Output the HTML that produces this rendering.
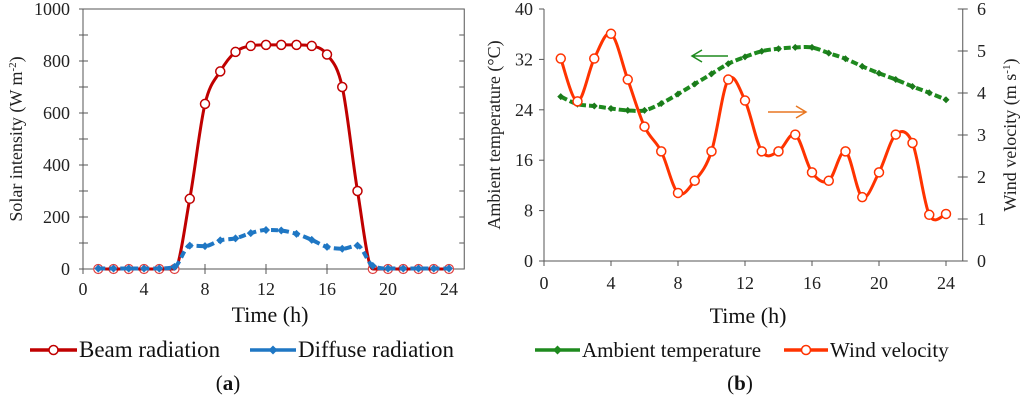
<!DOCTYPE html>
<html><head><meta charset="utf-8"><style>
body{margin:0;background:#fff;}
svg{font-family:"Liberation Serif",serif;}
</style></head><body>
<svg id="c" width="1024" height="402" viewBox="0 0 1024 402" xmlns="http://www.w3.org/2000/svg"></svg>
<script>
const hours=[1,2,3,4,5,6,7,8,9,10,11,12,13,14,15,16,17,18,19,20,21,22,23,24];
const beam=[0,0,0,0,0,0,270,635,760,835,858,862,862,862,858,825,700,300,0,0,0,0,0,0];
const diffuse=[2,2,2,2,2,8,90,88,110,118,138,150,148,135,112,85,78,90,12,2,2,2,2,2];
const temp=[26.1,24.9,24.6,24.2,23.9,23.9,25,26.5,28.1,29.7,31.3,32.4,33.3,33.7,33.9,33.9,33,32.1,30.9,29.8,28.8,27.7,26.7,25.6];
const wind=[4.82,3.8,4.82,5.41,4.32,3.2,2.61,1.62,1.91,2.61,4.32,3.82,2.61,2.61,3.01,2.11,1.91,2.61,1.52,2.11,3.01,2.81,1.1,1.12];
const xTicks=[0,4,8,12,16,20,24];
const yTicksA=[0,200,400,600,800,1000];
const yTicksT=[0,8,16,24,32,40];
const yTicksW=[0,1,2,3,4,5,6];

const svg=document.getElementById('c');
const NS='http://www.w3.org/2000/svg';
function el(tag,attrs,parent){const e=document.createElementNS(NS,tag);for(const k in attrs)e.setAttribute(k,attrs[k]);(parent||svg).appendChild(e);return e;}
function txt(s,attrs,parent){const e=el('text',attrs,parent);e.textContent=s;return e;}
function smooth(pts){let d=`M${pts[0][0]},${pts[0][1]}`;for(let i=0;i<pts.length-1;i++){const p0=pts[i-1]||pts[i],p1=pts[i],p2=pts[i+1],p3=pts[i+2]||p2;const c1=[p1[0]+(p2[0]-p0[0])/6,p1[1]+(p2[1]-p0[1])/6],c2=[p2[0]-(p3[0]-p1[0])/6,p2[1]-(p3[1]-p1[1])/6];d+=`C${c1[0]},${c1[1]} ${c2[0]},${c2[1]} ${p2[0]},${p2[1]}`;}return d;}
function monotone(pts){const n=pts.length,dx=[],s=[],m=[];for(let i=0;i<n-1;i++){dx[i]=pts[i+1][0]-pts[i][0];s[i]=(pts[i+1][1]-pts[i][1])/dx[i];}
 m[0]=s[0];m[n-1]=s[n-2];for(let i=1;i<n-1;i++){m[i]=(s[i-1]*s[i]<=0)?0:(s[i-1]+s[i])/2;}
 for(let i=0;i<n-1;i++){if(s[i]===0){m[i]=0;m[i+1]=0;continue;}const a=m[i]/s[i],b=m[i+1]/s[i],h=a*a+b*b;if(h>9){const t=3/Math.sqrt(h);m[i]=t*a*s[i];m[i+1]=t*b*s[i];}}
 let d=`M${pts[0][0]},${pts[0][1]}`;for(let i=0;i<n-1;i++){const h=dx[i]/3;d+=`C${pts[i][0]+h},${pts[i][1]+m[i]*h} ${pts[i+1][0]-h},${pts[i+1][1]-m[i+1]*h} ${pts[i+1][0]},${pts[i+1][1]}`;}return d;}
function diamond(x,y,r,fill,g){return el('path',{d:`M${x},${y-r}L${x+r},${y}L${x},${y+r}L${x-r},${y}Z`,fill:fill},g);}

// ---- Chart A
const ax=v=>83+v*(366/24), ay=v=>269-v*0.26;
const gA=el('g',{});
el('rect',{x:83,y:9,width:ax(25)-83,height:260,fill:'none',stroke:'#555','stroke-width':1},gA);
for(let v=0;v<=1000;v+=100){const y=ay(v);el('line',{x1:79,x2:88,y1:y,y2:y,stroke:'#555'},gA);el('line',{x1:ax(25)-5,x2:ax(25),y1:y,y2:y,stroke:'#555'},gA);}
yTicksA.forEach(v=>{const t=txt(v,{x:70,y:ay(v)+6,'text-anchor':'end','font-size':18,fill:'#222'},gA);});
xTicks.forEach(v=>{el('line',{x1:ax(v),x2:ax(v),y1:264,y2:274,stroke:'#555'},gA);const t=txt(v,{x:ax(v),y:295,'text-anchor':'middle','font-size':18,fill:'#222'},gA);});
let t=txt('Solar intensity (W m',{transform:'translate(22,139) rotate(-90)','text-anchor':'middle','font-size':18,fill:'#222'},gA);
const sp=el('tspan',{'font-size':11,dy:-6},t);sp.textContent='-2';const sp2=el('tspan',{dy:6},t);sp2.textContent=')';

t=txt('Time (h)',{x:270,y:322,'text-anchor':'middle','font-size':22,fill:'#111'},gA);
hours.forEach((h,i)=>{if(beam[i]!==0)return;const c=el('circle',{cx:ax(h),cy:ay(beam[i]),r:4.5,fill:'#fff',stroke:'#e04040','stroke-width':1.2},gA);});
let p=el('path',{d:monotone(hours.map((h,i)=>[ax(h),ay(beam[i])])),fill:'none',stroke:'#c00000','stroke-width':3},gA);
p=el('path',{d:monotone(hours.map((h,i)=>[ax(h),ay(diffuse[i])])),fill:'none',stroke:'#1f77c4','stroke-width':4,'stroke-dasharray':'7,4'},gA);
hours.forEach((h,i)=>{const d=diamond(ax(h),ay(diffuse[i]),4,'#1f77c4',gA);});
hours.forEach((h,i)=>{if(beam[i]===0)return;const c=el('circle',{cx:ax(h),cy:ay(beam[i]),r:4.5,fill:'#fff',stroke:'#c00000','stroke-width':1.5},gA);});

// ---- Chart B
const bx=v=>544+v*(402/24), by=v=>261-v*6.3, bw=v=>261-v*42;
const gB=el('g',{});
el('path',{d:`M544,9V261H${bx(25)}V9`,fill:'none',stroke:'#555'},gB);
yTicksT.forEach(v=>{el('line',{x1:539,x2:544,y1:by(v),y2:by(v),stroke:'#555'},gB);const t=txt(v,{x:533,y:by(v)+6,'text-anchor':'end','font-size':18,fill:'#222'},gB);});
yTicksW.forEach(v=>{el('line',{x1:bx(25)-5,x2:bx(25)+5,y1:bw(v),y2:bw(v),stroke:'#555'},gB);const t=txt(v,{x:977,y:bw(v)+6,'font-size':18,fill:'#222'},gB);});
xTicks.forEach(v=>{el('line',{x1:bx(v),x2:bx(v),y1:261,y2:266,stroke:'#555'},gB);const t=txt(v,{x:bx(v),y:289,'text-anchor':'middle','font-size':18,fill:'#222'},gB);});
t=txt('Ambient temperature (°C)',{transform:'translate(500,135) rotate(-90)','text-anchor':'middle','font-size':18,fill:'#222'},gB);
t=txt('Wind velocity (m s',{transform:'translate(1016,135) rotate(-90)','text-anchor':'middle','font-size':18,fill:'#222'},gB);
const s3=el('tspan',{'font-size':11,dy:-6},t);s3.textContent='-1';const s4=el('tspan',{dy:6},t);s4.textContent=')';

t=txt('Time (h)',{x:748,y:323,'text-anchor':'middle','font-size':22,fill:'#111'},gB);
p=el('path',{d:smooth(hours.map((h,i)=>[bx(h),by(temp[i])])),fill:'none',stroke:'#1e8a1e','stroke-width':4,'stroke-dasharray':'7,3'},gB);
hours.forEach((h,i)=>{const d=diamond(bx(h),by(temp[i]),3.5,'#1a7a1a',gB);});
p=el('path',{d:smooth(hours.map((h,i)=>[bx(h),bw(wind[i])])),fill:'none',stroke:'#ff3300','stroke-width':3},gB);
hours.forEach((h,i)=>{const c=el('circle',{cx:bx(h),cy:bw(wind[i]),r:4.5,fill:'#fff',stroke:'#ff3300','stroke-width':1.5},gB);});
let a=el('path',{d:'M728,56H693M702,50L692,56L702,62',fill:'none',stroke:'#1e8a1e','stroke-width':1.5},gB);
a=el('path',{d:'M768,112H805M796,106L806,112L796,118',fill:'none',stroke:'#e87722','stroke-width':1.5},gB);

// ---- Legends
function legend(x1,x2,color,marker,label,lx,name,fs){const g=el('g',{});
 el('line',{x1:x1,x2:x2,y1:350,y2:350,stroke:color,'stroke-width':3.5},g);
 const m=(x1+x2)/2; if(marker==='circle')el('circle',{cx:m,cy:350,r:4.5,fill:'#fff',stroke:color,'stroke-width':1.5},g);else diamond(m,350,4.5,color,g);
 txt(label,{x:lx,y:357,'font-size':fs,fill:'#111'},g);}
legend(30,77,'#c00000','circle','Beam radiation',79,'legend-beam',23);
legend(250,296,'#1f77c4','dia','Diffuse radiation',298,'legend-diffuse',23);
legend(535,580,'#1e8a1e','dia','Ambient temperature',582,'legend-temperature',21);
legend(784,828,'#ff3300','circle','Wind velocity',830,'legend-wind',21);
t=txt('',{x:228,y:390,'text-anchor':'middle','font-size':21,fill:'#111'});let ts=el('tspan',{},t);ts.textContent='(';ts=el('tspan',{'font-weight':'bold'},t);ts.textContent='a';ts=el('tspan',{},t);ts.textContent=')';

t=txt('',{x:740,y:390,'text-anchor':'middle','font-size':21,fill:'#111'});ts=el('tspan',{},t);ts.textContent='(';ts=el('tspan',{'font-weight':'bold'},t);ts.textContent='b';ts=el('tspan',{},t);ts.textContent=')';

</script>
</body></html>
